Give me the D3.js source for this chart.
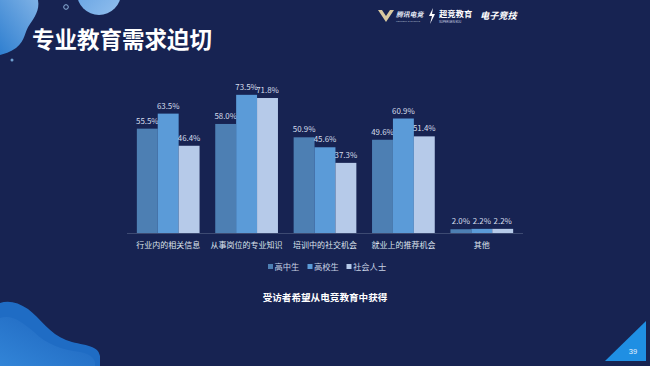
<!DOCTYPE html>
<html><head><meta charset="utf-8">
<script src="https://cdn.jsdelivr.net/npm/d3@7/dist/d3.min.js"></script>
<style>
html,body{margin:0;padding:0;background:#172352;}
svg{display:block;font-family:"Noto Sans CJK SC","Noto Sans",sans-serif;}
</style></head>
<body><svg id="c" width="650" height="366"></svg>
<script>
const categories = ["行业内的相关信息","从事岗位的专业知识","培训中的社交机会","就业上的推荐机会","其他"];
const seriesNames = ["高中生","高校生","社会人士"];
const highSchool = [55.5, 58.0, 50.9, 49.6, 2.0];
const college = [63.5, 73.5, 45.6, 60.9, 2.2];
const adults = [46.4, 71.8, 37.3, 51.4, 2.2];
const seriesColors = ["#4d7fb3","#5b9bd8","#b6cae9"];
const title = "专业教育需求迫切";
const subtitle = "受访者希望从电竞教育中获得";
const pageNo = "39";

const series = [highSchool, college, adults];
const svg = d3.select("#c");
svg.append("rect").attr("width",650).attr("height",366).attr("fill","#172352");

// decorations
const defs = svg.append("defs");
const g1 = defs.append("linearGradient").attr("id","gTop").attr("x1","0").attr("y1","1").attr("x2","1").attr("y2","0");
g1.append("stop").attr("offset","0").attr("stop-color","#2f7fd0");
g1.append("stop").attr("offset","1").attr("stop-color","#7fb2e6");
const g2 = defs.append("linearGradient").attr("id","gCirc").attr("x1","0").attr("y1","0").attr("x2","1").attr("y2","1");
g2.append("stop").attr("offset","0").attr("stop-color","#5a9be0");
g2.append("stop").attr("offset","1").attr("stop-color","#93c0ee");
const g3 = defs.append("linearGradient").attr("id","gBot").attr("x1","0").attr("y1","1").attr("x2","1").attr("y2","0");
g3.append("stop").attr("offset","0").attr("stop-color","#3a8fe0");
g3.append("stop").attr("offset","1").attr("stop-color","#1b5fb8");

svg.append("path").attr("d","M0,0 L38,0 C40,10 34,18 30,24 C24,32 26,40 16,48 C10,52 4,54 0,55 Z").attr("fill","url(#gTop)");
svg.append("circle").attr("cx",99).attr("cy",-7).attr("r",22).attr("fill","url(#gCirc)");
svg.append("circle").attr("cx",66).attr("cy",7).attr("r",2.3).attr("fill","none").attr("stroke","#8fb4dc").attr("stroke-width",1);
svg.append("circle").attr("cx",12).attr("cy",60).attr("r",1.5).attr("fill","#6f9fd0");
svg.append("path").attr("d","M0,303 C8,300 18,302 28,309 C40,318 50,334 66,340 C82,346 98,344 100,356 L100,366 L0,366 Z").attr("fill","#1f6cc4");
svg.append("path").attr("d","M0,318 C12,314 22,322 34,332 C46,344 62,350 80,352 C92,354 96,360 95,366 L0,366 Z").attr("fill","url(#gBot)").attr("opacity",0.7);
svg.append("path").attr("d","M605,361 L646,321 L646,361 Z").attr("fill","#1f8fe3");
svg.append("text").attr("x",633).attr("y",354).attr("text-anchor","middle").attr("font-size",7.5).attr("fill","#e8f2ff").attr("font-family","Liberation Sans, sans-serif").text(pageNo);

// title
svg.append("text").attr("x",32).attr("y",48).attr("font-size",22.5).attr("font-weight","bold").attr("fill","#ffffff").text(title);

// logos
const logo = svg.append("g");
logo.append("path").attr("d","M378,10 L386,22 L394,10 L390,10 L386,16 L382,10 Z").attr("fill","#d9c9a0");
logo.append("text").attr("x",396).attr("y",17).attr("font-size",6.8).attr("font-weight","bold").attr("font-style","italic").attr("fill","#e6ecf6").text("腾讯电竞");
logo.append("text").attr("x",396).attr("y",22).attr("font-size",2.4).attr("fill","#aab6cc").attr("font-family","Liberation Sans, sans-serif").text("TENCENT E-SPORTS");
logo.append("path").attr("d","M433,8 L429,16 L432,16 L430,24 L435,14 L432,14 Z").attr("fill","#ffffff");
logo.append("text").attr("x",439).attr("y",17).attr("font-size",8.3).attr("font-weight","bold").attr("fill","#ffffff").text("超竞教育");
logo.append("text").attr("x",439).attr("y",22.5).attr("font-size",2.8).attr("fill","#d0d8e8").attr("font-family","Liberation Sans, sans-serif").text("SUPERGEN EDU");
logo.append("text").attr("x",480).attr("y",19).attr("font-size",9.2).attr("font-weight","bold").attr("font-style","italic").attr("fill","#ffffff").text("电子竞技");

// chart
const x0 = d3.scaleBand().domain(categories).range([129,521]).paddingInner(0.2).paddingOuter(0.1);
const x1 = d3.scaleBand().domain(d3.range(seriesNames.length)).range([0,x0.bandwidth()]).padding(0);
const y = d3.scaleLinear().domain([0,80]).range([233,82.6]);

svg.append("line").attr("x1",127).attr("x2",523).attr("y1",233.5).attr("y2",233.5).attr("stroke","#3d4a72").attr("stroke-width",1);

const groups = svg.selectAll("g.grp").data(categories).join("g").attr("class","grp")
  .attr("transform",c=>`translate(${x0(c)},0)`);
groups.each(function(c,ci){
  const g = d3.select(this);
  series.forEach((s,si)=>{
    g.append("rect").attr("x",x1(si)).attr("width",x1.bandwidth()).attr("y",y(s[ci])).attr("height",y(0)-y(s[ci])).attr("fill",seriesColors[si]);
    g.append("text").attr("x",x1(si)+x1.bandwidth()/2).attr("y",y(s[ci])-5).attr("text-anchor","middle")
      .attr("font-size",7.9).attr("fill","#d6deec").text(s[ci].toFixed(1)+"%");
  });
});
const xAxis = svg.append("g").attr("transform","translate(0,233)").call(d3.axisBottom(x0).tickSize(0).tickPadding(9));
xAxis.select(".domain").remove();
xAxis.selectAll("text").attr("font-size",8).attr("fill","#dde3ee").attr("font-family","Noto Sans CJK SC, sans-serif");

// legend
const legX = [268,307.5,346.5];
const leg = svg.selectAll("g.leg").data(seriesNames).join("g").attr("class","leg")
  .attr("transform",(d,i)=>`translate(${legX[i]},267)`);
leg.append("rect").attr("x",0).attr("y",-3).attr("width",5).attr("height",5).attr("fill",(d,i)=>seriesColors[i]);
leg.append("text").attr("x",6.5).attr("y",3.2).attr("font-size",8.3).attr("fill","#c8d2e4").text(d=>d);

svg.append("text").attr("x",325).attr("y",300.5).attr("text-anchor","middle").attr("font-size",9.6).attr("font-weight","bold").attr("fill","#ffffff").text(subtitle);
</script></body></html>
